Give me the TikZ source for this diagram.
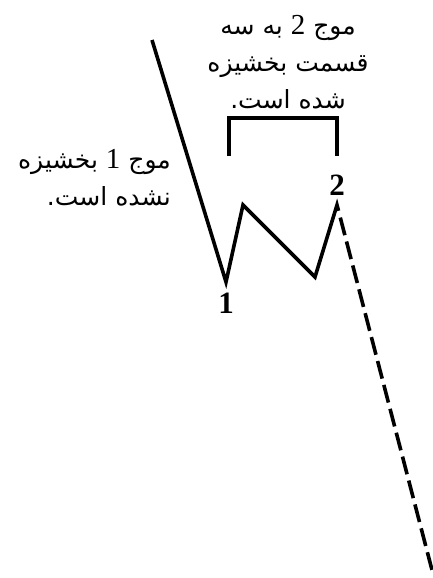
\documentclass[tikz,border=0pt]{standalone}
\usepackage{fontspec}
\usetikzlibrary{calc}
\TeXXeTstate=1
\newfontfamily\arabicfont[Script=Arabic]{DejaVu Sans}
\newfontfamily\numfont{Liberation Serif}
\begin{document}
\begin{tikzpicture}[x=1pt,y=-1pt,
  wave/.style={line width=3.6pt,line join=miter,line cap=butt},
  brack/.style={line width=3.4pt,line join=miter},
  dashwave/.style={line width=3.6pt,dash pattern=on 18.2pt off 6.5pt},
  ptlabel/.style={font=\numfont\bfseries\fontsize{31}{33}\selectfont,inner sep=0pt},
  note/.style={font=\arabicfont\fontsize{25}{37}\selectfont,align=center,inner sep=0pt}]
\useasboundingbox (0,0) rectangle (433,578);
\coordinate (s) at (152,40);
\coordinate (p1) at (226,282);
\coordinate (pa) at (243,205);
\coordinate (pb) at (315,277);
\coordinate (p2) at (337,205);
\coordinate (e) at (432,570);
\coordinate (p2s) at ($(p2)!6pt!(e)$);
\coordinate (d0) at ($(p2)!13pt!(e)$);
\draw[wave] (s) -- (p1) -- (pa) -- (pb) -- (p2) -- (p2s);
\draw[dashwave] (d0) -- (e);
\coordinate (b1) at (229,156);
\coordinate (b2) at (229,118);
\coordinate (b3) at (337,118);
\coordinate (b4) at (337,156);
\draw[brack] (b1) -- (b2) -- (b3) -- (b4);
\node[ptlabel] (l1) at (226,303) {1};
\node[ptlabel] (l2) at (337,185) {2};
\node[note] (top) at (288,62) {\beginR موج {\numfont\fontsize{29}{29}\selectfont 2} به سه\endR\\\beginR قسمت بخشیزه\endR\\\beginR شده است.\endR};
\node[note,align=right,anchor=east] (left) at (171,178) {\beginR موج {\numfont\fontsize{29}{29}\selectfont 1} بخشیزه\endR\\\beginR نشده است.\endR};
\end{tikzpicture}
\end{document}
